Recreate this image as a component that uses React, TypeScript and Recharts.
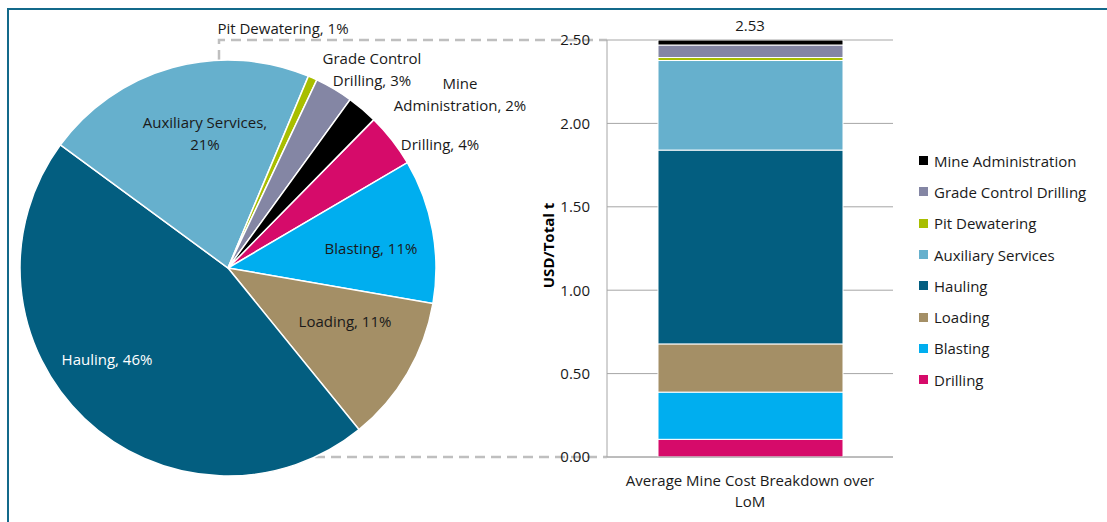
import React from 'react';
import { PieChart, Pie, Cell, BarChart, Bar, XAxis, YAxis, CartesianGrid, Legend, ReferenceDot, Text } from 'recharts';

// cost items, bottom of the stack first (also clockwise order in the pie)
const categories = [
  'Drilling',
  'Blasting',
  'Loading',
  'Hauling',
  'Auxiliary Services',
  'Pit Dewatering',
  'Grade Control Drilling',
  'Mine Administration',
];
const costs = [0.106, 0.283, 0.289, 1.162, 0.537, 0.018, 0.075, 0.06]; // USD/total t
const colors = ['#d60b6a', '#00aeef', '#a48f66', '#035e80', '#66b0cd', '#a8be00', '#8486a4', '#000000'];
const barCategory = 'Average Mine Cost Breakdown over LoM';
const yTicks = [0, 0.5, 1, 1.5, 2, 2.5];

const font = "'Open Sans', sans-serif";
const textColor = '#1a1a1a';

// where each pie label sits, relative to the pie centre
const pieLabelLayout: Record<string, { dx: number; dy: number; firstLine: number; fill: string }> = {
  'Drilling': { dx: 212, dy: -124, firstLine: 9, fill: textColor },
  'Blasting': { dx: 143, dy: -20, firstLine: 9, fill: textColor },
  'Loading': { dx: 117, dy: 53, firstLine: 9, fill: textColor },
  'Hauling': { dx: -121, dy: 91, firstLine: 9, fill: '#ffffff' },
  'Auxiliary Services': { dx: -23, dy: -135, firstLine: 2, fill: textColor },
  'Pit Dewatering': { dx: 55, dy: -240, firstLine: 9, fill: textColor },
  'Grade Control Drilling': { dx: 144, dy: -199, firstLine: 2, fill: textColor },
  'Mine Administration': { dx: 232, dy: -174, firstLine: 1, fill: textColor },
};

const pieData = categories.map((name, i) => ({ name, value: costs[i] }));
const barRow: Record<string, number | string> = { name: barCategory };
categories.forEach((c, i) => { barRow[c] = costs[i]; });
const barData = [barRow];
const total = costs.reduce((a, b) => a + b, 0);

const renderPieLabel = (props: any) => {
  const { cx, cy, name, percent } = props;
  const lay = pieLabelLayout[name];
  const words = `${name}, ${Math.round(percent * 100)}%`.split(' ');
  const lines = words.length > lay.firstLine
    ? [words.slice(0, lay.firstLine).join(' '), words.slice(lay.firstLine).join(' ')]
    : [words.join(' ')];
  const lh = 22;
  const y0 = cy + lay.dy - ((lines.length - 1) * lh) / 2;
  return (
    <text x={cx + lay.dx} y={y0} textAnchor="middle" dominantBaseline="central" fill={lay.fill}
      style={{ fontFamily: font, fontSize: 15 }}>
      {lines.map((l, i) => (
        <tspan key={i} x={cx + lay.dx} y={y0 + i * lh}>{l}</tspan>
      ))}
    </text>
  );
};

const CategoryTick = ({ x, y, payload }: any) => (
  <Text x={x} y={y + 10} width={270} textAnchor="middle" verticalAnchor="start" lineHeight={21}
    fill={textColor} style={{ fontFamily: font, fontSize: 15 }}>
    {payload.value}
  </Text>
);

const YLabel = ({ viewBox }: any) => {
  const x = 48;
  const y = viewBox.y + viewBox.height / 2 - 3;
  return (
    <text x={x} y={y} transform={`rotate(-90, ${x}, ${y})`} textAnchor="middle" dominantBaseline="central"
      fill="#000" style={{ fontFamily: font, fontSize: 15, fontWeight: 700 }}>
      USD/Total t
    </text>
  );
};

const LegendContent = () => (
  <div style={{ fontFamily: font, fontSize: 15, color: textColor }}>
    {categories.map((c, i) => ({ c, color: colors[i] })).reverse().map((item) => (
      <div key={item.c} style={{ display: 'flex', alignItems: 'center', height: 31.3, whiteSpace: 'nowrap' }}>
        <span style={{ width: 9, height: 9, background: item.color, marginRight: 6, display: 'inline-block' }} />
        <span>{item.c}</span>
      </div>
    ))}
  </div>
);

export default function App() {
  return (
    <div style={{ position: 'absolute', left: 0, top: 0, width: 1107, height: 522, background: '#fff', overflow: 'hidden' }}>
      <div style={{ position: 'absolute', left: 7, top: 8, right: -10, bottom: -10, borderTop: '2px solid #13698a', borderLeft: '2px solid #13698a' }} />
      {/* connector lines from pie to bar */}
      <svg width={1107} height={522} style={{ position: 'absolute', left: 0, top: 0 }}>
        <path d="M219,60 V40 H607" fill="none" stroke="#bfbfbf" strokeWidth={2.5} strokeDasharray="10 6" />
        <path d="M315,457 H607" fill="none" stroke="#bfbfbf" strokeWidth={2.5} strokeDasharray="10 6" />
      </svg>
      <div style={{ position: 'absolute', left: 0, top: 0 }}>
        <PieChart width={560} height={522} margin={{ top: 0, right: 0, bottom: 0, left: 0 }}>
          <Pie data={pieData} dataKey="value" nameKey="name" cx={228} cy={268} outerRadius={208}
            startAngle={45.5} endAngle={-314.5} stroke="#fff" strokeWidth={1.5}
            labelLine={false} label={renderPieLabel} isAnimationActive={false}>
            {pieData.map((d, i) => <Cell key={d.name} fill={colors[i]} />)}
          </Pie>
        </PieChart>
      </div>
      <div style={{ position: 'absolute', left: 500, top: 0 }}>
        <BarChart width={420} height={522} data={barData} barSize={185}
          margin={{ top: 40, right: 27, left: 0, bottom: 15 }}>
          <CartesianGrid vertical={false} stroke="#a6a6a6" />
          <XAxis dataKey="name" height={50} tick={<CategoryTick />} tickLine={false} axisLine={{ stroke: '#a6a6a6' }} />
          <YAxis width={107} domain={[0, 2.5]} ticks={yTicks} allowDataOverflow tickFormatter={(v) => v.toFixed(2)}
            tickLine={false} tickSize={0} tickMargin={17} axisLine={{ stroke: '#a6a6a6' }}
            tick={{ fill: textColor, fontSize: 15, fontFamily: font }} label={<YLabel />} />
          {categories.map((c, i) => (
            <Bar key={c} dataKey={c} stackId="cost" fill={colors[i]} stroke="#fff" strokeWidth={1} isAnimationActive={false} />
          ))}
          <ReferenceDot x={barCategory} y={total} r={0} ifOverflow="visible"
            label={{ value: total.toFixed(2), position: 'top', offset: 4, fill: textColor, fontSize: 15, fontFamily: font }} />
          <Legend layout="vertical" align="center" verticalAlign="middle" content={<LegendContent />}
            wrapperStyle={{ left: 419, top: 145, width: 190 }} />
        </BarChart>
      </div>
    </div>
  );
}
